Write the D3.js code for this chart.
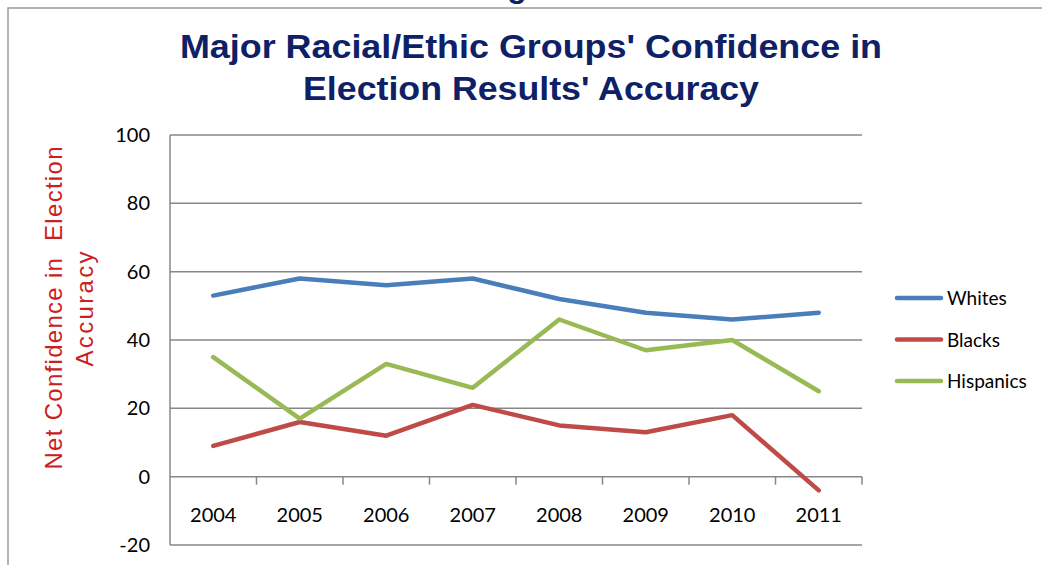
<!DOCTYPE html>
<html><head><meta charset="utf-8">
<script src="https://cdn.jsdelivr.net/npm/d3@7"></script>
<style>body{margin:0;background:#fff}svg{display:block}</style>
</head><body>
<svg id="c" width="1042" height="565"></svg>
<script>
const years = ["2004","2005","2006","2007","2008","2009","2010","2011"];
const whites = [53, 58, 56, 58, 52, 48, 46, 48];
const blacks = [9, 16, 12, 21, 15, 13, 18, -4];
const hispanics = [35, 17, 33, 26, 46, 37, 40, 25];
const seriesNames = ["Whites", "Blacks", "Hispanics"];
const seriesColors = ["#4A7EBB", "#BE4B48", "#98B954"];
const yTicks = [-20, 0, 20, 40, 60, 80, 100];
const titleLines = ["Major Racial/Ethic Groups' Confidence in", "Election Results' Accuracy"];
const yTitleLines = ["Net Confidence in  Election", "Accuracy"];

const series = [whites, blacks, hispanics].map((v, i) => ({name: seriesNames[i], color: seriesColors[i], values: v}));

const svg = d3.select("#c");
const L = 170, R = 862, T = 135, B = 545;
const x = d3.scaleBand().domain(years).range([L, R]).padding(0);
const y = d3.scaleLinear().domain([-20, 100]).range([B, T]);
const grid = "#878787";

// fragment of the text above the frame
svg.append("text").attr("x", 517).attr("y", -3).attr("text-anchor", "middle")
  .attr("font-family", "Liberation Sans, Arial, sans-serif").attr("font-weight", "bold")
  .attr("font-size", 32).attr("fill", "#0E2166").text("g");
svg.append("path").attr("d", `M8,565 V8 H1042`).attr("fill", "none").attr("stroke", "#9a9a9a").attr("stroke-width", 1.5);

// title
svg.append("g").selectAll("text").data(titleLines).join("text")
  .attr("x", 531).attr("y", (d, i) => 58 + i * 42).attr("text-anchor", "middle")
  .attr("font-family", "Liberation Sans, Arial, sans-serif").attr("font-weight", "bold")
  .attr("font-size", 33).attr("fill", "#0E2166")
  .attr("textLength", (d, i) => i === 0 ? 702 : 456).attr("lengthAdjust", "spacingAndGlyphs")
  .text(d => d);

// gridlines
svg.append("g").selectAll("line").data(yTicks).join("line")
  .attr("x1", L).attr("x2", R).attr("y1", d => y(d)).attr("y2", d => y(d))
  .attr("stroke", grid).attr("stroke-width", 1.5);
// left axis line
svg.append("line").attr("x1", L).attr("x2", L).attr("y1", T).attr("y2", B).attr("stroke", grid).attr("stroke-width", 1.5);

// y tick labels
const yAxis = d3.axisLeft(y).tickValues(yTicks).tickSize(0).tickPadding(20).tickFormat(d => String(d));
const ya = svg.append("g").attr("transform", `translate(${L},0)`).call(yAxis);
ya.select(".domain").remove();
ya.selectAll("text").attr("font-family", "Lato, sans-serif").attr("font-size", 20).attr("fill", "#000");

// x axis at y=0 with boundary ticks
const boundaries = years.map(d => x(d) + x.bandwidth());
svg.append("g").selectAll("line").data(boundaries).join("line")
  .attr("x1", d => d).attr("x2", d => d).attr("y1", y(0)).attr("y2", y(0) + 8)
  .attr("stroke", grid).attr("stroke-width", 1.5);
svg.append("g").selectAll("text").data(years).join("text")
  .attr("x", d => x(d) + x.bandwidth() / 2).attr("y", 522).attr("text-anchor", "middle")
  .attr("font-family", "Lato, sans-serif").attr("font-size", 20).attr("fill", "#000").text(d => d);

// y title
svg.append("g").selectAll("text").data(yTitleLines).join("text")
  .attr("transform", (d, i) => `translate(${62 + i * 31},${i === 0 ? 308 : 309}) rotate(-90)`)
  .attr("text-anchor", "middle")
  .attr("font-family", "Liberation Sans, Arial, sans-serif").attr("font-size", 24)
  .attr("fill", "#CC2020").attr("xml:space", "preserve").style("white-space", "pre")
  .attr("textLength", (d, i) => i === 0 ? 323 : 115).attr("lengthAdjust", "spacing")
  .text(d => d);

// lines
const line = d3.line().x((d, i) => x(years[i]) + x.bandwidth() / 2).y(d => y(d));
svg.append("g").selectAll("path").data(series).join("path")
  .attr("d", d => line(d.values)).attr("fill", "none").attr("stroke", d => d.color)
  .attr("stroke-width", 4.5).attr("stroke-linecap", "round").attr("stroke-linejoin", "round");

// legend
const lg = svg.append("g").selectAll("g").data(series).join("g")
  .attr("transform", (d, i) => `translate(0,${298 + i * 41.5})`);
lg.append("line").attr("x1", 897).attr("x2", 941).attr("y1", 0).attr("y2", 0)
  .attr("stroke", d => d.color).attr("stroke-width", 4.5).attr("stroke-linecap", "round");
lg.append("text").attr("x", 947).attr("y", 7).attr("font-family", "Lato, sans-serif")
  .attr("font-size", 19).attr("fill", "#000").text(d => d.name);
</script>
</body></html>
